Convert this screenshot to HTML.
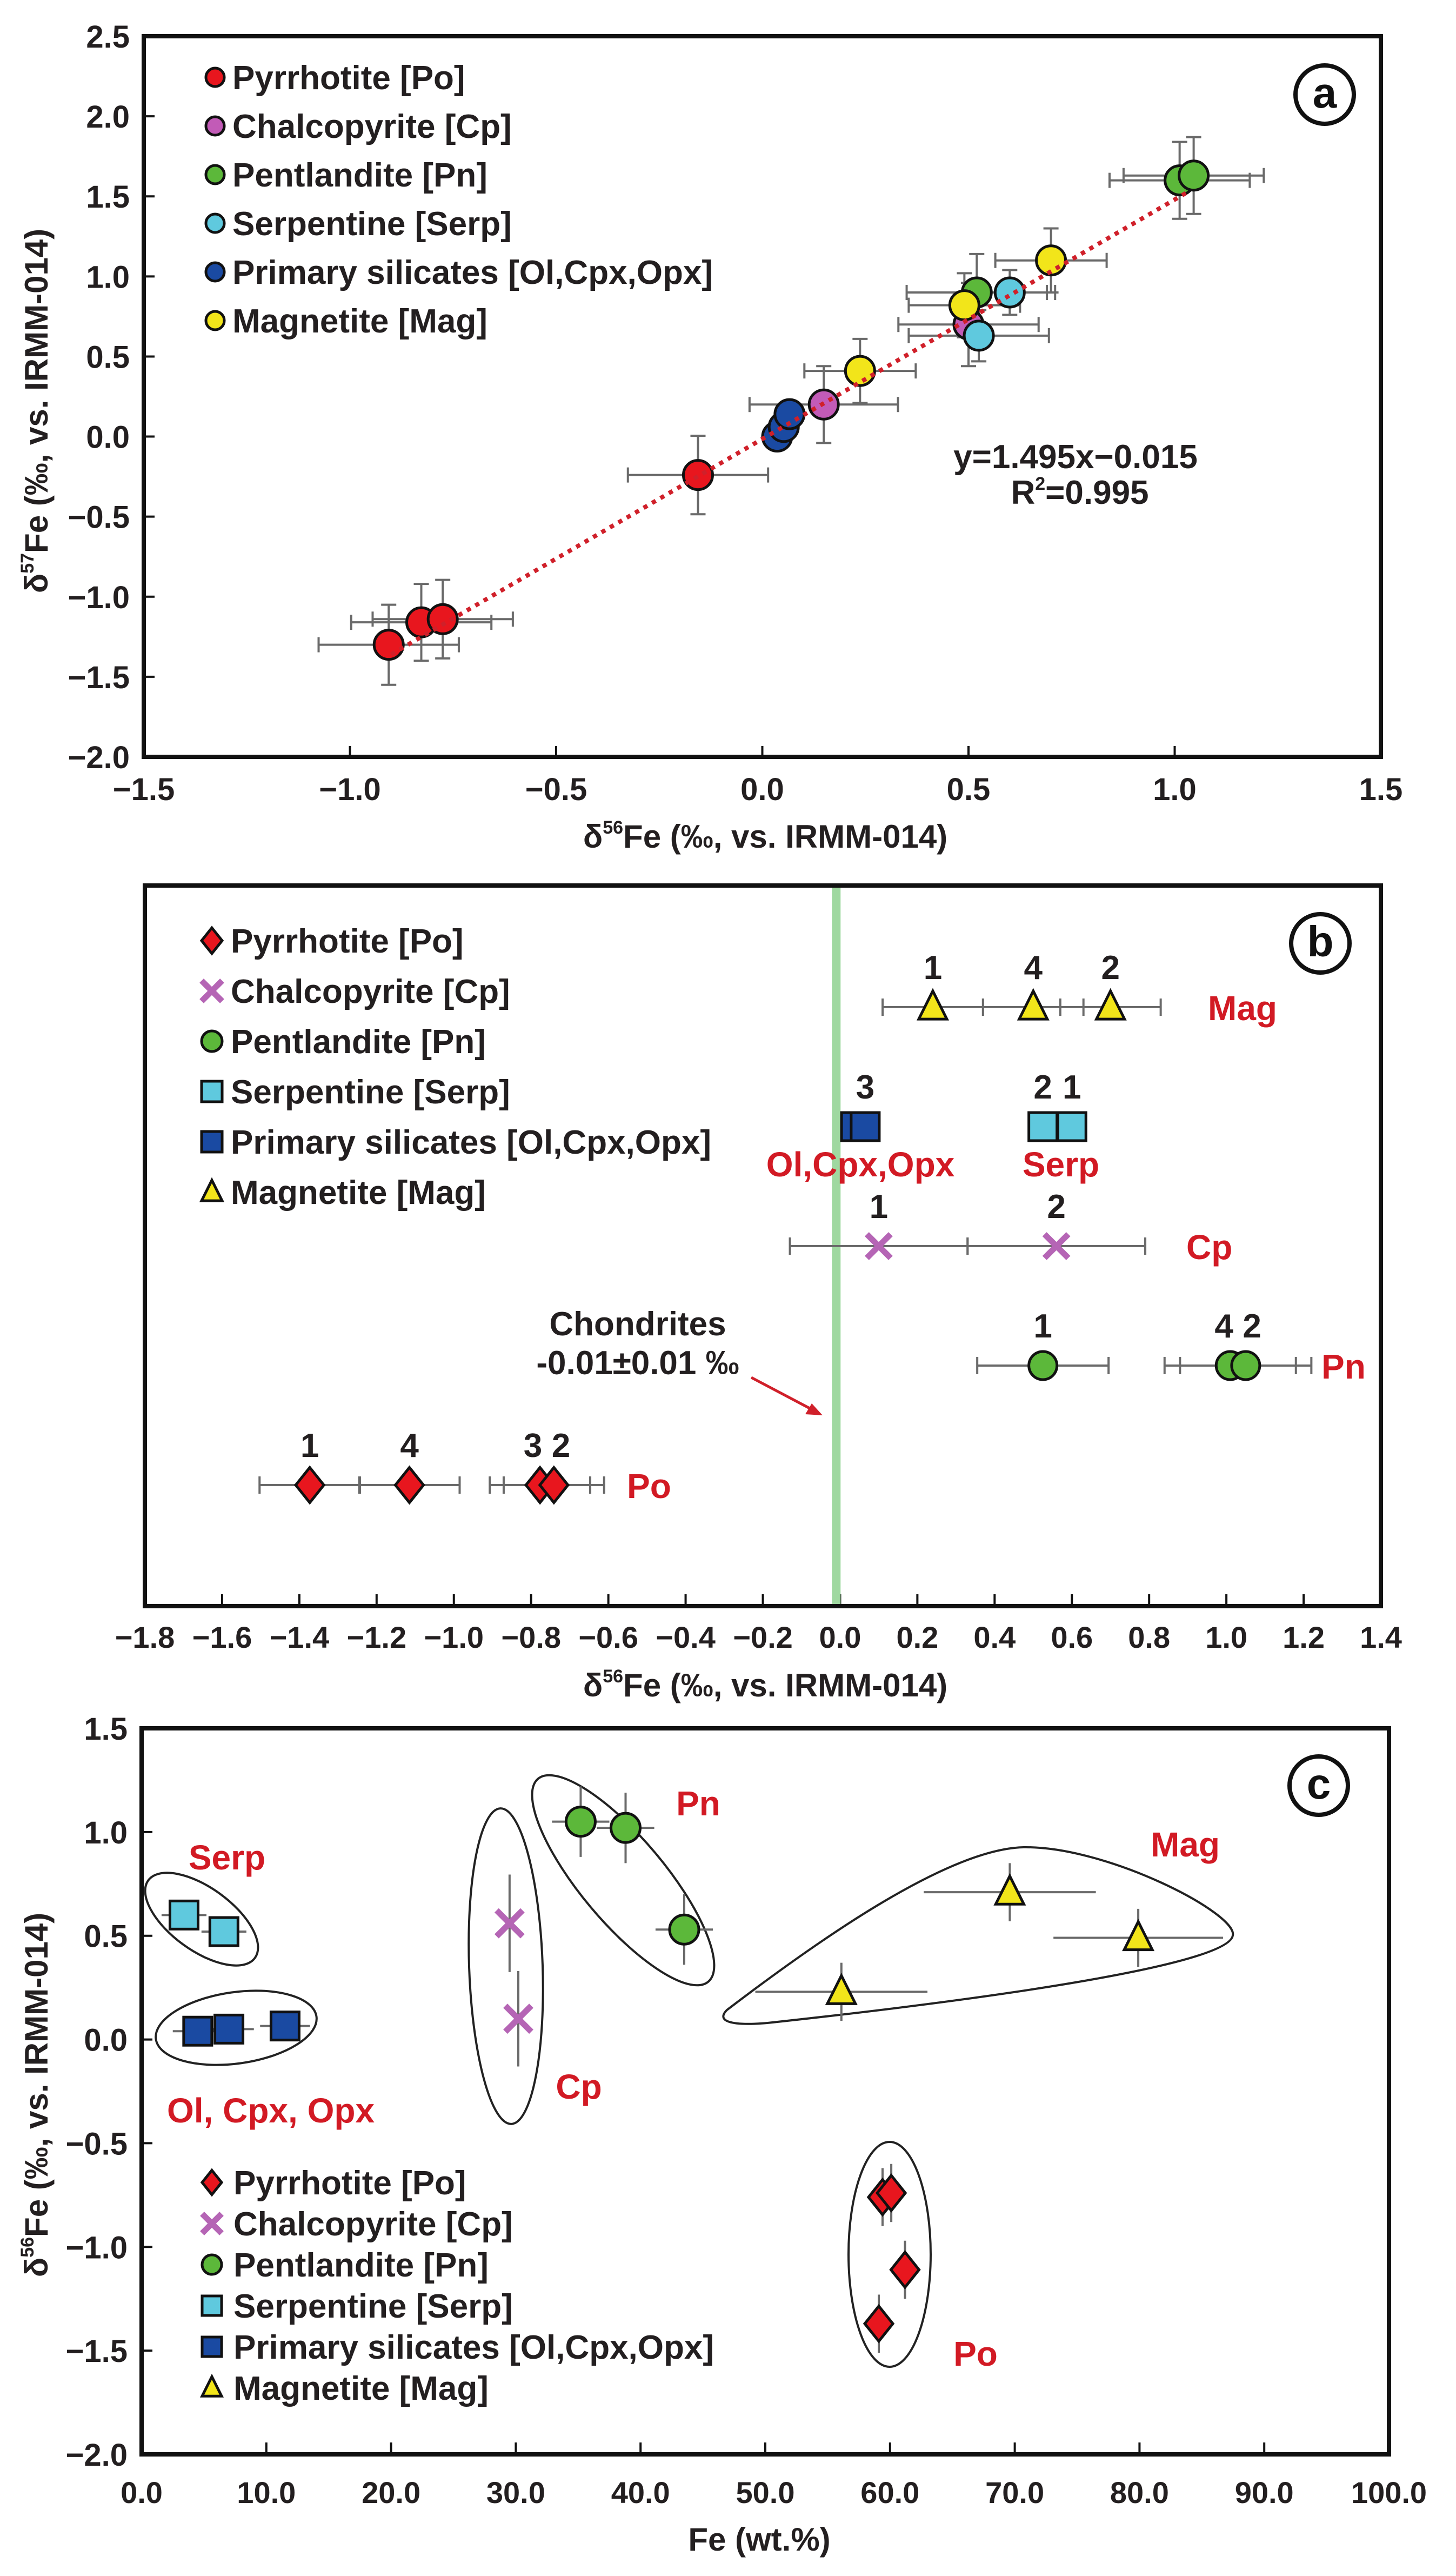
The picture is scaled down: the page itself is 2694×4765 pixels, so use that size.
<!DOCTYPE html>
<html><head><meta charset="utf-8"><title>Fe isotope plots</title>
<style>
html,body{margin:0;padding:0;background:#fff;}
svg{display:block;font-family:"Liberation Sans",Arial,sans-serif;font-weight:bold;}
</style></head>
<body>
<svg id="fig" xmlns="http://www.w3.org/2000/svg" width="2694" height="4765" viewBox="0 0 2694 4765">
<rect x="0" y="0" width="2694" height="4765" fill="#fff"/>
</svg>
<script>
// ---------- Panel a data ----------
const aMineral = ['Po','Po','Po','Po','Cp','Cp','Pn','Pn','Pn','Serp','Serp','Sil','Sil','Sil','Mag','Mag','Mag'];
const aX    = [-0.906,-0.827,-0.775,-0.156,0.149,0.50,0.52,1.012,1.046,0.60,0.525,0.036,0.052,0.066,0.237,0.49,0.70];
const aY    = [-1.30,-1.16,-1.14,-0.24,0.20,0.70,0.90,1.60,1.63,0.90,0.63,0.00,0.06,0.14,0.41,0.82,1.10];
const aXErr = [0.17,0.17,0.17,0.17,0.18,0.17,0.17,0.17,0.17,0.11,0.17,0.02,0.02,0.02,0.135,0.135,0.135];
const aYErr = [0.25,0.24,0.245,0.245,0.24,0.26,0.24,0.24,0.24,0.14,0.16,0.03,0.03,0.03,0.20,0.20,0.20];
const aXTicks = [-1.5,-1.0,-0.5,0.0,0.5,1.0,1.5];
const aYTicks = [2.5,2.0,1.5,1.0,0.5,0.0,-0.5,-1.0,-1.5,-2.0];
const aFit = [1.495,-0.015];
const aFitRange = [-0.90,1.03];

// ---------- Panel b data ----------
const bRowNames = ['Mag','Serp/Sil','Cp','Pn','Po'];
const bMineral = ['Mag','Mag','Mag','Sil','Sil','Serp','Serp','Cp','Cp','Pn','Pn','Pn','Po','Po','Po','Po'];
const bRow     = [0,0,0,1,1,1,1,2,2,3,3,3,4,4,4,4];
const bX       = [0.24,0.50,0.70,0.04,0.065,0.525,0.60,0.10,0.56,0.525,1.01,1.05,-1.373,-1.115,-0.777,-0.741];
const bErr     = [0.13,0.13,0.13,0.02,0.02,0.02,0.02,0.23,0.23,0.17,0.17,0.17,0.13,0.13,0.13,0.13];
const bNum     = ['1','4','2','','3','2','1','1','2','1','4','2','1','4','3','2'];
const bXTicks = [-1.8,-1.6,-1.4,-1.2,-1.0,-0.8,-0.6,-0.4,-0.2,0.0,0.2,0.4,0.6,0.8,1.0,1.2,1.4];
const bChondrite = -0.01;

// ---------- Panel c data ----------
const cMineral = ['Serp','Serp','Sil','Sil','Sil','Cp','Cp','Pn','Pn','Pn','Mag','Mag','Mag','Po','Po','Po','Po'];
const cX    = [3.4,6.6,4.5,7.0,11.5,29.5,30.2,35.2,38.8,43.5,56.1,69.6,79.9,59.4,60.1,61.2,59.1];
const cY    = [0.60,0.52,0.04,0.05,0.065,0.56,0.10,1.05,1.02,0.53,0.23,0.71,0.49,-0.76,-0.74,-1.11,-1.37];
const cXErr = [1.8,1.8,2.0,2.0,2.0,0,0,2.3,2.3,2.3,6.9,6.9,6.8,0,0,0,0];
const cYErr = [0,0,0,0,0,0.235,0.23,0.17,0.17,0.17,0.14,0.14,0.14,0.14,0.14,0.14,0.14];
const cXTicks = [0,10,20,30,40,50,60,70,80,90,100];
const cYTicks = [1.5,1.0,0.5,0.0,-0.5,-1.0,-1.5,-2.0];

// ---------- styles ----------
const FILL = {Po:'#e8161e',Cp:'#c25bb7',Pn:'#5cb83a',Serp:'#5fc9de',Sil:'#1a4aa2',Mag:'#f2e51a'};
const XCOL = '#b565b5';
const RED = '#d21a24';
const ERR = '#6a6a6a';
const NS = 'http://www.w3.org/2000/svg';
const svg = document.getElementById('fig');

function el(tag, attrs, parent){
  const e = document.createElementNS(NS, tag);
  for (const k in attrs) e.setAttribute(k, attrs[k]);
  (parent||svg).appendChild(e);
  return e;
}
function grp(name){
  const g = document.createElementNS(NS,'g');
  
  
  svg.appendChild(g);
  return g;
}
function txt(parent, x, y, s, size, anchor, color, name){
  const t = el('text', {x:x, y:y, 'font-size':size, 'text-anchor':anchor||'start', fill:color||'#231f20'}, parent);
  t.textContent = s;
  
  
  return t;
}
function fmt(v, d){ const s = v.toFixed(d); return v < 0 ? '\u2212' + s.slice(1) : s; }

function marker(parent, type, x, y, s, name){
  let m;
  const st = {stroke:'#111', 'stroke-width':5};
  if (type==='Po' && parent.__diamond){
    m = el('polygon', Object.assign({points:`${x},${y-s*1.25} ${x+s},${y} ${x},${y+s*1.25} ${x-s},${y}`, fill:FILL.Po}, st), parent);
  } else if (type==='Cp' && parent.__cross){
    m = el('path', {d:`M${x-s},${y-s}L${x+s},${y+s}M${x-s},${y+s}L${x+s},${y-s}`, stroke:XCOL, 'stroke-width':11, fill:'none'}, parent);
  } else if ((type==='Serp'||type==='Sil') && parent.__square){
    m = el('rect', Object.assign({x:x-s, y:y-s, width:2*s, height:2*s, fill:FILL[type]}, st), parent);
  } else if (type==='Mag' && parent.__tri){
    m = el('polygon', Object.assign({points:`${x},${y-s*1.15} ${x+s},${y+s*0.85} ${x-s},${y+s*0.85}`, fill:FILL.Mag}, st), parent);
  } else {
    m = el('circle', Object.assign({cx:x, cy:y, r:s, fill:FILL[type]}, st), parent);
  }
  
  
  return m;
}
function circleLabel(cx, cy, letter, name){
  const g = grp(name);
  el('circle', {cx:cx, cy:cy, r:54, fill:'none', stroke:'#111', 'stroke-width':8}, g);
  txt(g, cx, cy+24, letter, 80, 'middle', '#111', 'panel-letter');
}
function frame(name, L, T, R, B){
  const r = el('rect', {x:L, y:T, width:R-L, height:B-T, fill:'none', stroke:'#111', 'stroke-width':8});
  
  
}
const LEGEND_TEXT = ['Pyrrhotite [Po]','Chalcopyrite [Cp]','Pentlandite [Pn]','Serpentine [Serp]','Primary silicates [Ol,Cpx,Opx]','Magnetite [Mag]'];
const LEGEND_KEYS = ['Po','Cp','Pn','Serp','Sil','Mag'];
function legend(name, mx, tx, y0, dy, s, shaped){
  const g = grp(name);
  if (shaped){ g.__diamond = g.__cross = g.__square = g.__tri = true; }
  LEGEND_KEYS.forEach((k,i)=>{
    const y = y0 + i*dy;
    marker(g, k, mx, y, s, 'legend-marker-'+k.toLowerCase());
    txt(g, tx, y+22, LEGEND_TEXT[i], 62, 'start', '#231f20', 'legend-entry-'+k.toLowerCase());
  });
}

// =============== PANEL A ===============
const AL=266, AR=2555, AT=67, AB=1400;
const ax = v => AL + (v+1.5)*(AR-AL)/3;
const ay = v => AB - (v+2)*(AB-AT)/4.5;
(function(){
  const axes = grp('panel-a-axes');
  aXTicks.forEach(v=>{
    el('line',{x1:ax(v),x2:ax(v),y1:AB,y2:AB-20,stroke:'#111','stroke-width':4},axes);
    txt(axes, ax(v), 1480, fmt(v,1), 58, 'middle', '#231f20', 'x-tick-label');
  });
  aYTicks.forEach(v=>{
    el('line',{x1:AL,x2:AL+20,y1:ay(v),y2:ay(v),stroke:'#111','stroke-width':4},axes);
    txt(axes, 240, ay(v)+21, fmt(v,1), 58, 'end', '#231f20', 'y-tick-label');
  });
  const xt = el('text',{x:1416,y:1568,'font-size':60,'text-anchor':'middle',fill:'#231f20'},axes);
  xt.innerHTML = 'δ<tspan font-size="34" dy="-26">56</tspan><tspan dy="26">Fe (‰, vs. IRMM-014)</tspan>';
  
  
  const yt = el('text',{x:0,y:0,'font-size':60,'text-anchor':'middle',fill:'#231f20',transform:'translate(88,760) rotate(-90)'},axes);
  yt.innerHTML = 'δ<tspan font-size="34" dy="-26">57</tspan><tspan dy="26">Fe (‰, vs. IRMM-014)</tspan>';
  
  

  const eg = grp('panel-a-error-bars');
  aX.forEach((v,i)=>{
    const x=ax(v), y=ay(aY[i]), x1=ax(v-aXErr[i]), x2=ax(v+aXErr[i]), y1=ay(aY[i]+aYErr[i]), y2=ay(aY[i]-aYErr[i]);
    el('path',{d:`M${x1},${y}H${x2}M${x1},${y-14}V${y+14}M${x2},${y-14}V${y+14}M${x},${y1}V${y2}M${x-14},${y1}H${x+14}M${x-14},${y2}H${x+14}`,stroke:ERR,'stroke-width':4,fill:'none'},eg);
  });
  const mg = grp('panel-a-points');
  aX.forEach((v,i)=>{ marker(mg, aMineral[i], ax(v), ay(aY[i]), 27, 'point-'+aMineral[i].toLowerCase()); });
  const fl = el('line',{x1:ax(aFitRange[0]),y1:ay(aFit[0]*aFitRange[0]+aFit[1]),x2:ax(aFitRange[1]),y2:ay(aFit[0]*aFitRange[1]+aFit[1]),stroke:'#d0202a','stroke-width':8,'stroke-dasharray':'8 10'});
  
  
  const eq = grp('regression-equation');
  txt(eq, 1990, 866, 'y=1.495x\u22120.015', 62, 'middle', '#231f20', 'equation-text');
  const r2 = el('text',{x:1998,y:932,'font-size':62,'text-anchor':'middle',fill:'#231f20'},eq);
  r2.innerHTML = 'R<tspan font-size="34" dy="-26">2</tspan><tspan dy="26">=0.995</tspan>';
  
  
  legend('panel-a-legend', 398, 430, 143, 90, 17, false);
  circleLabel(2451, 175, 'a', 'panel-a-label');
  frame('panel-a-frame', AL, AT, AR, AB);
})();

// =============== PANEL B ===============
const BL=268, BR=2555, BT=1638, BB=2971;
const bx = v => BL + (v+1.8)*(BR-BL)/3.2;
const byRow = i => 1863 + i*221;
(function(){
  const axes = grp('panel-b-axes');
  const cl = el('line',{x1:bx(bChondrite),x2:bx(bChondrite),y1:BT,y2:BB,stroke:'#9fd8a0','stroke-width':16});
  
  
  bXTicks.forEach(v=>{
    el('line',{x1:bx(v),x2:bx(v),y1:BB,y2:BB-22,stroke:'#111','stroke-width':4},axes);
    txt(axes, bx(v), 3048, fmt(v,1), 56, 'middle', '#231f20', 'x-tick-label');
  });
  const xt = el('text',{x:1416,y:3138,'font-size':60,'text-anchor':'middle',fill:'#231f20'},axes);
  xt.innerHTML = 'δ<tspan font-size="34" dy="-26">56</tspan><tspan dy="26">Fe (‰, vs. IRMM-014)</tspan>';
  
  

  const eg = grp('panel-b-error-bars');
  bX.forEach((v,i)=>{
    if (bMineral[i]==='Sil'||bMineral[i]==='Serp') return;
    const y=byRow(bRow[i]), x1=bx(v-bErr[i]), x2=bx(v+bErr[i]);
    el('path',{d:`M${x1},${y}H${x2}M${x1},${y-16}V${y+16}M${x2},${y-16}V${y+16}`,stroke:ERR,'stroke-width':4,fill:'none'},eg);
  });
  const mg = grp('panel-b-points');
  mg.__diamond = mg.__cross = mg.__square = mg.__tri = true;
  const sizes = {Po:26,Cp:22,Pn:26,Serp:26,Sil:26,Mag:26};
  bX.forEach((v,i)=>{ marker(mg, bMineral[i], bx(v), byRow(bRow[i]), sizes[bMineral[i]], 'point-'+bMineral[i].toLowerCase()); });
  // sample numbers, spread apart if overlapping
  const ng = grp('panel-b-sample-numbers');
  const labs = [];
  bX.forEach((v,i)=>{ if (bNum[i]) labs.push({row:bRow[i], x:bx(v), s:bNum[i]}); });
  labs.sort((a,b)=>a.row-b.row || a.x-b.x);
  for (let k=1;k<labs.length;k++){
    const p=labs[k-1], c=labs[k];
    if (p.row===c.row && c.x-p.x<50){ const m=(p.x+c.x)/2; p.x=m-26; c.x=m+26; }
  }
  labs.forEach(l=> txt(ng, l.x, byRow(l.row)-52, l.s, 62, 'middle', '#231f20', 'sample-number'));
  const lg = grp('panel-b-group-labels');
  txt(lg, 2235, byRow(0)+24, 'Mag', 64, 'start', RED, 'group-label-mag');
  txt(lg, 1592, byRow(1)+92, 'Ol,Cpx,Opx', 64, 'middle', RED, 'group-label-silicates');
  txt(lg, 1963, byRow(1)+92, 'Serp', 64, 'middle', RED, 'group-label-serp');
  txt(lg, 2195, byRow(2)+24, 'Cp', 64, 'start', RED, 'group-label-cp');
  txt(lg, 2445, byRow(3)+24, 'Pn', 64, 'start', RED, 'group-label-pn');
  txt(lg, 1160, byRow(4)+24, 'Po', 64, 'start', RED, 'group-label-po');
  const ch = grp('chondrite-annotation');
  txt(ch, 1180, 2470, 'Chondrites', 62, 'middle', '#231f20', 'chondrite-title');
  txt(ch, 1180, 2542, '-0.01\u00b10.01 \u2030', 62, 'middle', '#231f20', 'chondrite-value');
  el('line',{x1:1390,y1:2548,x2:1500,y2:2606,stroke:'#d0202a','stroke-width':5},ch);
  el('polygon',{points:'1522,2618 1490,2616 1502,2596',fill:'#d0202a'},ch);
  legend('panel-b-legend', 392, 427, 1740, 93, 19, true);
  circleLabel(2443, 1745, 'b', 'panel-b-label');
  frame('panel-b-frame', BL, BT, BR, BB);
})();

// =============== PANEL C ===============
const CL=262, CR=2570, CT=3197, CB=4540;
const cx = v => CL + v*(CR-CL)/100;
const cy = v => CT + (1.5-v)*(CB-CT)/3.5;
(function(){
  const axes = grp('panel-c-axes');
  cXTicks.forEach(v=>{
    el('line',{x1:cx(v),x2:cx(v),y1:CB,y2:CB-22,stroke:'#111','stroke-width':4},axes);
    txt(axes, cx(v), 4630, v.toFixed(1), 56, 'middle', '#231f20', 'x-tick-label');
  });
  cYTicks.forEach(v=>{
    el('line',{x1:CL,x2:CL+20,y1:cy(v),y2:cy(v),stroke:'#111','stroke-width':4},axes);
    txt(axes, 236, cy(v)+21, fmt(v,1), 58, 'end', '#231f20', 'y-tick-label');
  });
  txt(axes, 1405, 4718, 'Fe (wt.%)', 60, 'middle', '#231f20', 'x-axis-title');
  const yt = el('text',{x:0,y:0,'font-size':60,'text-anchor':'middle',fill:'#231f20',transform:'translate(88,3875) rotate(-90)'},axes);
  yt.innerHTML = 'δ<tspan font-size="34" dy="-26">56</tspan><tspan dy="26">Fe (‰, vs. IRMM-014)</tspan>';
  
  

  // group outlines (annotations)
  const og = grp('panel-c-group-outlines');
  const oa = {fill:'none',stroke:'#222','stroke-width':4};
  el('ellipse',Object.assign({cx:373,cy:3550,rx:122,ry:58,transform:'rotate(36 373 3550)'},oa),og);
  el('ellipse',Object.assign({cx:437,cy:3751,rx:150,ry:66,transform:'rotate(-8 437 3751)'},oa),og);
  el('ellipse',Object.assign({cx:936,cy:3637,rx:68,ry:292,transform:'rotate(-2 936 3637)'},oa),og);
  el('ellipse',Object.assign({cx:1153,cy:3478,rx:245,ry:78,transform:'rotate(50 1153 3478)'},oa),og);
  el('ellipse',Object.assign({cx:1646,cy:4170,rx:76,ry:208},oa),og);
  el('path',Object.assign({d:'M1345,3718 C1500,3600 1750,3420 1894,3417 C2050,3415 2290,3540 2281,3580 C2275,3630 1900,3690 1420,3742 C1350,3748 1325,3738 1345,3718 Z'},oa),og);

  const eg = grp('panel-c-error-bars');
  cX.forEach((v,i)=>{
    const x=cx(v), y=cy(cY[i]);
    let d='';
    if (cXErr[i]) d += `M${cx(v-cXErr[i])},${y}H${cx(v+cXErr[i])}`;
    if (cYErr[i]) d += `M${x},${cy(cY[i]+cYErr[i])}V${cy(cY[i]-cYErr[i])}`;
    el('path',{d:d,stroke:ERR,'stroke-width':4,fill:'none'},eg);
  });
  const mg = grp('panel-c-points');
  mg.__diamond = mg.__cross = mg.__square = mg.__tri = true;
  const sizes = {Po:26,Cp:24,Pn:27,Serp:26,Sil:26,Mag:26};
  cX.forEach((v,i)=>{ marker(mg, cMineral[i], cx(v), cy(cY[i]), sizes[cMineral[i]], 'point-'+cMineral[i].toLowerCase()); });
  const lg = grp('panel-c-group-labels');
  txt(lg, 420, 3458, 'Serp', 64, 'middle', RED, 'group-label-serp');
  txt(lg, 501, 3926, 'Ol, Cpx, Opx', 64, 'middle', RED, 'group-label-silicates');
  txt(lg, 1071, 3882, 'Cp', 64, 'middle', RED, 'group-label-cp');
  txt(lg, 1292, 3358, 'Pn', 64, 'middle', RED, 'group-label-pn');
  txt(lg, 2193, 3434, 'Mag', 64, 'middle', RED, 'group-label-mag');
  txt(lg, 1805, 4376, 'Po', 64, 'middle', RED, 'group-label-po');
  legend('panel-c-legend', 392, 432, 4037, 76, 18, true);
  circleLabel(2440, 3303, 'c', 'panel-c-label');
  frame('panel-c-frame', CL, CT, CR, CB);
})();
</script>
</body></html>
